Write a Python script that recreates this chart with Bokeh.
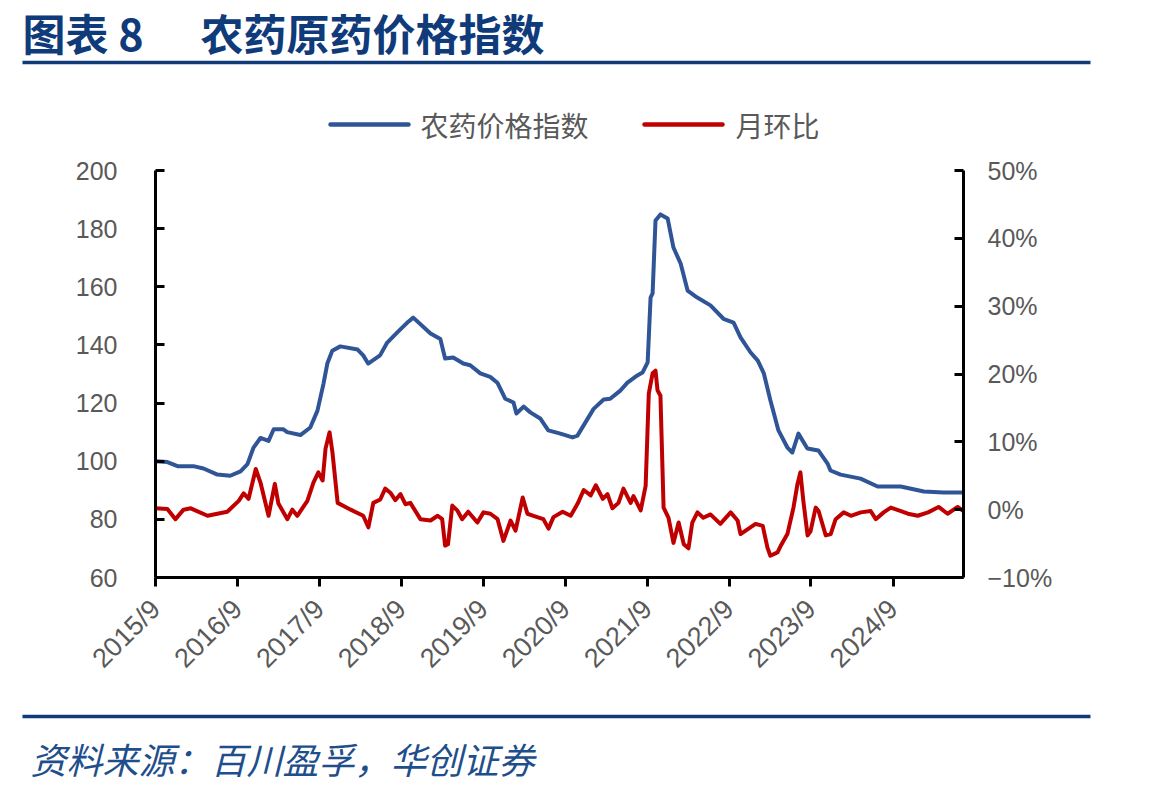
import math
import pandas as pd
from bokeh.plotting import figure
from bokeh.models import Range1d, LinearAxis, FixedTicker, CustomJSTickFormatter, ColumnDataSource
from bokeh.layouts import column
from bokeh.core.properties import value
from bokeh.embed import file_html
from bokeh.resources import INLINE

TITLE_PREFIX = "图表 8"
TITLE = "农药原药价格指数"
SOURCE = "资料来源：百川盈孚，华创证券"
SERIES_NAMES = ["农药价格指数", "月环比"]

index_dates = [
    "2015-09-01", "2015-10-24", "2015-12-08", "2016-02-17", "2016-04-02", "2016-06-03",
    "2016-07-30", "2016-09-14", "2016-10-15", "2016-11-11", "2016-12-12", "2017-01-17",
    "2017-02-09", "2017-03-23", "2017-04-10", "2017-06-08", "2017-07-22", "2017-08-23",
    "2017-09-19", "2017-10-06", "2017-10-28", "2017-12-03", "2018-02-18", "2018-03-15",
    "2018-04-06", "2018-05-29", "2018-06-30", "2018-08-14", "2018-10-02", "2018-10-24",
    "2019-01-09", "2019-02-22", "2019-03-15", "2019-04-20", "2019-06-04", "2019-07-05",
    "2019-08-19", "2019-10-02", "2019-11-03", "2019-12-08", "2020-01-14", "2020-01-27",
    "2020-02-28", "2020-03-29", "2020-05-12", "2020-06-17", "2020-08-10", "2020-10-03",
    "2020-10-25", "2021-01-05", "2021-02-19", "2021-03-20", "2021-05-04", "2021-06-05",
    "2021-07-19", "2021-08-11", "2021-09-03", "2021-09-16", "2021-09-25", "2021-10-08",
    "2021-10-30", "2021-12-01", "2021-12-27", "2022-01-28", "2022-02-28", "2022-04-12",
    "2022-06-10", "2022-08-07", "2022-09-21", "2022-10-22", "2022-12-06", "2023-01-07",
    "2023-02-03", "2023-03-04", "2023-04-09", "2023-05-19", "2023-06-10", "2023-07-07",
    "2023-08-16", "2023-10-04", "2023-11-14", "2023-11-27", "2024-01-11", "2024-04-09",
    "2024-06-24", "2024-10-05", "2025-01-16", "2025-04-14", "2025-07-12",
]
index_values = [
    100.0, 99.7, 98.3, 98.3, 97.5, 95.4,
    95.0, 96.5, 99.0, 104.7, 108.0, 107.0,
    111.0, 111.0, 110.0, 109.0, 111.6, 117.4,
    126.7, 133.6, 138.0, 139.5, 138.4, 136.4,
    133.6, 136.4, 140.8, 144.3, 148.0, 149.4,
    143.9, 142.0, 135.3, 135.7, 133.6, 133.0,
    130.2, 129.0, 127.0, 121.5, 120.2, 116.4,
    118.8, 116.8, 114.7, 110.6, 109.5, 108.2,
    108.8, 118.0, 121.2, 121.5, 124.3, 127.0,
    129.5, 130.5, 134.0, 156.3, 157.7, 182.8,
    184.9, 183.5, 173.5, 168.0, 158.7, 156.3,
    153.6, 149.0, 147.7, 142.6, 137.4, 134.6,
    130.2, 121.0, 110.6, 104.7, 103.0, 109.5,
    104.4, 103.7, 99.2, 96.8, 95.4, 94.0,
    91.3, 91.3, 89.6, 89.2, 89.2,
]

mom_dates = [
    "2015-09-01", "2015-10-24", "2015-11-29", "2016-01-04", "2016-02-05", "2016-04-20",
    "2016-07-17", "2016-09-06", "2016-09-28", "2016-10-20", "2016-11-21", "2016-12-12",
    "2017-01-17", "2017-02-14", "2017-03-02", "2017-04-11", "2017-05-03", "2017-05-25",
    "2017-07-09", "2017-08-05", "2017-08-27", "2017-09-15", "2017-09-28", "2017-10-16",
    "2017-10-29", "2017-11-21", "2018-01-18", "2018-03-15", "2018-04-07", "2018-04-29",
    "2018-05-30", "2018-06-21", "2018-07-14", "2018-08-05", "2018-08-28", "2018-09-19",
    "2018-10-11", "2018-11-25", "2019-01-09", "2019-02-10", "2019-03-02", "2019-03-15",
    "2019-03-28", "2019-04-16", "2019-05-08", "2019-05-30", "2019-06-26", "2019-08-06",
    "2019-09-02", "2019-10-03", "2019-11-04", "2019-11-30", "2020-01-01", "2020-01-23",
    "2020-02-24", "2020-03-16", "2020-04-12", "2020-05-26", "2020-06-18", "2020-07-10",
    "2020-08-20", "2020-09-25", "2020-10-26", "2020-11-22", "2020-12-23", "2021-01-15",
    "2021-02-15", "2021-03-08", "2021-03-30", "2021-04-26", "2021-05-18", "2021-06-19",
    "2021-07-02", "2021-08-03", "2021-08-25", "2021-09-08", "2021-09-25", "2021-10-08",
    "2021-10-17", "2021-10-30", "2021-11-13", "2021-12-05", "2021-12-27", "2022-01-19",
    "2022-02-11", "2022-03-04", "2022-03-21", "2022-04-13", "2022-05-09", "2022-06-10",
    "2022-07-24", "2022-09-08", "2022-10-09", "2022-10-22", "2022-11-22", "2022-12-28",
    "2023-01-29", "2023-02-19", "2023-03-04", "2023-04-05", "2023-04-18", "2023-05-19",
    "2023-06-15", "2023-07-03", "2023-07-16", "2023-07-29", "2023-08-17", "2023-08-30",
    "2023-09-22", "2023-10-05", "2023-11-06", "2023-11-28", "2023-12-20", "2024-01-25",
    "2024-02-26", "2024-04-10", "2024-05-24", "2024-06-16", "2024-07-21", "2024-08-22",
    "2024-10-06", "2024-11-06", "2024-12-20", "2025-02-04", "2025-03-23", "2025-05-02",
    "2025-06-16", "2025-07-12",
]
mom_values = [
    0.2, 0.1, -1.4, 0.0, 0.2, -0.9,
    -0.3, 1.3, 2.4, 1.6, 6.0, 4.0,
    -0.9, 3.8, 0.9, -1.4, 0.0, -0.9,
    1.3, 4.0, 5.5, 4.3, 9.0, 11.4,
    8.4, 1.0, 0.0, -0.9, -2.6, 1.0,
    1.5, 3.1, 2.5, 1.4, 2.3, 0.8,
    1.0, -1.4, -1.6, -0.9, -1.4, -5.3,
    -5.1, 0.6, -0.1, -1.4, -0.3, -1.9,
    -0.4, -0.6, -1.4, -4.6, -1.6, -3.1,
    1.8, -0.6, -0.9, -1.4, -2.8, -1.1,
    -0.3, -0.9, 0.9, 2.9, 2.1, 3.6,
    1.6, 2.3, 0.2, 1.0, 3.1, 1.0,
    2.0, -0.1, 3.5, 17.1, 20.1, 20.5,
    17.6, 16.8, 0.3, -1.2, -4.9, -1.9,
    -5.1, -5.7, -1.9, -0.4, -1.2, -0.7,
    -2.1, -0.4, -1.6, -3.6, -2.9, -2.1,
    -2.4, -5.6, -6.8, -6.3, -5.4, -3.6,
    0.3, 3.8, 5.5, 1.3, -3.8, -3.2,
    0.3, -0.2, -3.8, -3.6, -1.4, -0.4,
    -0.9, -0.4, -0.2, -1.4, -0.4, 0.3,
    -0.2, -0.6, -0.9, -0.4, 0.4, -0.6,
    0.4, -0.2,
]

x_tick_dates = ["2015-09-01", "2016-09-01", "2017-09-01", "2018-09-01", "2019-09-01",
                "2020-09-01", "2021-09-01", "2022-09-01", "2023-09-01", "2024-09-01"]
left_ticks = [60, 80, 100, 120, 140, 160, 180, 200]
right_ticks = [-10, 0, 10, 20, 30, 40, 50]

BLUE = "#2F5597"
RED = "#C00000"
NAVY = "#0F3B7A"
GREY = "#595959"
W = 1149
NUM_FONT = "Liberation Sans"
CJK = "Noto Sans CJK SC"


def no_align(f):
    try:
        f.frame_align = False
    except Exception:
        pass


def blank(h):
    f = figure(width=W, height=h, x_range=Range1d(0, W), y_range=Range1d(h, 0),
               x_axis_type=None, y_axis_type=None, toolbar_location=None,
               output_backend="svg", min_border=0, outline_line_color=None)
    f.xgrid.visible = False
    f.ygrid.visible = False
    no_align(f)
    return f


# ---------- header: title, rule, legend ----------
head = blank(150)
head.text(x=[22], y=[31], text=[TITLE_PREFIX], text_font=value(CJK), text_font_size="43px",
          text_font_style="bold", text_color=NAVY, text_baseline="middle", text_align="left")
head.text(x=[200], y=[31], text=[TITLE], text_font=value(CJK), text_font_size="43px",
          text_font_style="bold", text_color=NAVY, text_baseline="middle", text_align="left")
head.line(x=[22, 1090], y=[62, 62], line_width=3.5, line_color=NAVY)
head.line(x=[330, 408], y=[124, 124], line_width=4.5, line_color=BLUE, line_cap="round")
head.text(x=[420], y=[124], text=[SERIES_NAMES[0]], text_font=value(CJK), text_font_size="28px",
          text_color=GREY, text_baseline="middle")
head.line(x=[644, 722], y=[124, 124], line_width=4.5, line_color=RED, line_cap="round")
head.text(x=[735], y=[124], text=[SERIES_NAMES[1]], text_font=value(CJK), text_font_size="28px",
          text_color=GREY, text_baseline="middle")

# ---------- main chart ----------
idx_src = ColumnDataSource(dict(date=pd.to_datetime(index_dates), v=index_values))
mom_src = ColumnDataSource(dict(date=pd.to_datetime(mom_dates), v=mom_values))

p = figure(width=W, height=550, x_axis_type="datetime",
           x_range=Range1d(pd.Timestamp(index_dates[0]), pd.Timestamp(index_dates[-1])),
           y_range=Range1d(left_ticks[0], left_ticks[-1]),
           toolbar_location=None, output_backend="svg",
           min_border_left=155, min_border_right=186, min_border_top=20, min_border_bottom=123,
           outline_line_color=None)
no_align(p)
p.extra_y_ranges = {"pct": Range1d(right_ticks[0], right_ticks[-1])}
p.xgrid.visible = False
p.ygrid.visible = False

p.line("date", "v", source=idx_src, line_width=4, line_color=BLUE, line_join="round")
p.line("date", "v", source=mom_src, line_width=4, line_color=RED, line_join="round",
       y_range_name="pct")

tick_ms = [pd.Timestamp(d).value // 10**6 for d in x_tick_dates]
xa = p.xaxis[0]
xa.ticker = FixedTicker(ticks=tick_ms)
xa.formatter = CustomJSTickFormatter(code="""
const d = new Date(tick);
return d.getUTCFullYear() + '/' + (d.getUTCMonth() + 1);
""")
xa.major_label_orientation = math.pi / 4
xa.major_tick_in = 0
xa.major_tick_out = 9
xa.major_label_standoff = 18

ya = p.yaxis[0]
ya.ticker = FixedTicker(ticks=left_ticks)
ya.major_tick_in = 9
ya.major_tick_out = 0
ya.major_label_standoff = 38

ra = LinearAxis(y_range_name="pct", ticker=FixedTicker(ticks=right_ticks),
                formatter=CustomJSTickFormatter(code="return (tick < 0 ? '\\u2212' : '') + Math.abs(tick) + '%';"))
ra.major_tick_in = 9
ra.major_tick_out = 0
ra.major_label_standoff = 24
p.add_layout(ra, "right")

for ax in (xa, ya, ra):
    ax.axis_line_width = 3
    ax.axis_line_color = "black"
    ax.major_tick_line_width = 3
    ax.major_tick_line_color = "black"
    ax.minor_tick_line_color = None
    ax.major_label_text_font = NUM_FONT
    ax.major_label_text_font_size = "25px"
    ax.major_label_text_color = GREY
xa.major_label_text_font_size = "27px"

# ---------- footer ----------
foot = blank(92)
foot.line(x=[22, 1090], y=[16, 16], line_width=3.5, line_color=NAVY)
foot.text(x=[30], y=[57], text=[SOURCE], text_font=value(CJK), text_font_size="36px",
          text_font_style="italic", text_color="#1F4E8C", text_baseline="middle")

layout = column(head, p, foot, spacing=0)
open("out.html", "w").write(file_html(layout, INLINE))
